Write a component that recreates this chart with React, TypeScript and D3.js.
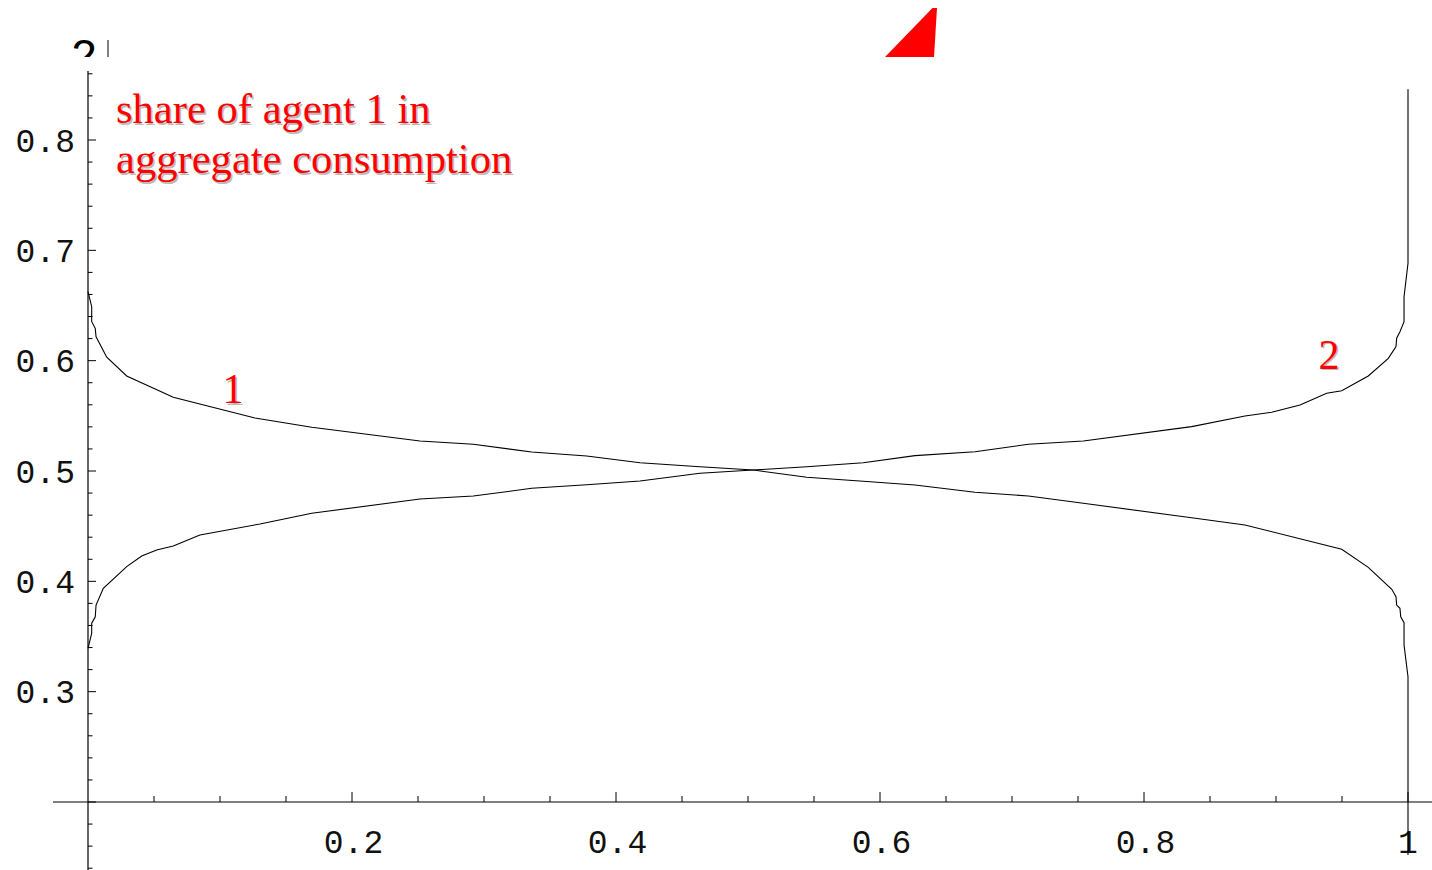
import React from 'react';
import * as d3 from 'd3';

// share of agent 1 in aggregate consumption
const agent1X = [0, 0.0028, 0.0028, 0.0055, 0.0061, 0.0142, 0.0293, 0.0646, 0.1265, 0.1695, 0.2515, 0.2919, 0.3361, 0.3778, 0.4182, 0.4636, 0.504, 0.5445, 0.5873, 0.6265, 0.672, 0.7124, 0.754, 0.8361, 0.8765, 0.9498, 0.9699, 0.9877, 0.9909, 0.9914, 0.9939, 0.9945, 0.997, 0.997, 1, 1];
const agent1Y = [0.6625, 0.6489, 0.6353, 0.6293, 0.6217, 0.6031, 0.5861, 0.5668, 0.548, 0.5396, 0.5272, 0.5242, 0.5172, 0.5136, 0.5075, 0.5039, 0.5009, 0.4943, 0.4907, 0.4873, 0.4807, 0.4773, 0.4707, 0.4577, 0.4511, 0.429, 0.4127, 0.3928, 0.3861, 0.3785, 0.3756, 0.3679, 0.3625, 0.3423, 0.3136, 0.152];

// share of agent 2
const agent2X = [0, 0.0028, 0.0028, 0.0055, 0.0061, 0.0116, 0.0293, 0.0407, 0.052, 0.0646, 0.0848, 0.1303, 0.1695, 0.2515, 0.2919, 0.3361, 0.3778, 0.4182, 0.4636, 0.504, 0.5445, 0.5873, 0.6265, 0.672, 0.7124, 0.754, 0.8361, 0.8765, 0.8967, 0.9182, 0.9384, 0.9498, 0.9699, 0.9851, 0.9909, 0.9914, 0.9939, 0.997, 0.997, 1, 1];
const agent2Y = [0.3393, 0.3529, 0.362, 0.3679, 0.3785, 0.3937, 0.4133, 0.423, 0.4284, 0.432, 0.442, 0.452, 0.4617, 0.4746, 0.4773, 0.4843, 0.4876, 0.4909, 0.4979, 0.5009, 0.5039, 0.5075, 0.5139, 0.5175, 0.5242, 0.5272, 0.5402, 0.5498, 0.5532, 0.5598, 0.5704, 0.5728, 0.5861, 0.6021, 0.6127, 0.6203, 0.6263, 0.6353, 0.658, 0.6883, 0.846];

const xTickLabels = ['0.2', '0.4', '0.6', '0.8', '1'];
const yTickLabels = ['0.3', '0.4', '0.5', '0.6', '0.7', '0.8'];

const curveLabels = [
  { text: '1', x: 0.1098, y: 0.5616 },
  { text: '2', x: 0.9402, y: 0.5925 },
];
const titleLines = ['share of agent 1 in', 'aggregate consumption'];

const W = 1432;
const H = 870;
const red = '#ff0000';
const mono = '"Liberation Mono", "Courier New", monospace';
const serif = '"Liberation Serif", "Times New Roman", serif';

export default function App() {
  const x = d3.scaleLinear().domain([0, 1]).range([88, 1408]);
  const y = d3.scaleLinear().domain([0.5, 0.8]).range([471, 140]);

  const line = d3
    .line<[number, number]>()
    .x(d => x(d[0]))
    .y(d => y(d[1]));

  const s1 = agent1X.map((v, i) => [v, agent1Y[i]] as [number, number]);
  const s2 = agent2X.map((v, i) => [v, agent2Y[i]] as [number, number]);

  const yAxisTop = 0.8625;
  const yAxisBottom = y.invert(H);
  const xMinor = d3.range(1, 21).map(i => i * 0.05);
  const yMinor = d3.range(7, 44).map(i => i * 0.02);

  const y0 = y(0.2);

  return (
    <svg width={W} height={H} style={{ position: 'absolute', left: 0, top: 0, background: '#fff' }}>
      <defs>
        <clipPath id="topclip">
          <rect x={0} y={0} width={W} height={57} />
        </clipPath>
      </defs>

      {/* remains of the panel above */}
      <g clipPath="url(#topclip)">
        <text x={84} y={71} textAnchor="middle" fontFamily={mono} fontSize={46} fill="#000">2</text>
        <line x1={108} x2={108} y1={40} y2={60} stroke="#000" strokeWidth={1} />
        <polygon points="885,57 932.5,8 937,8 934,57" fill={red} />
      </g>

      {/* y axis */}
      <line x1={x(0)} x2={x(0)} y1={y(yAxisTop)} y2={y(yAxisBottom)} stroke="#000" strokeWidth={1.2} />
      {yMinor.map(v => {
        const major = Math.abs(v * 10 - Math.round(v * 10)) < 1e-6;
        return (
          <line key={'ym' + v} x1={x(0)} x2={x(0) + (major ? 8 : 4.5)} y1={y(v)} y2={y(v)} stroke="#000" strokeWidth={1} />
        );
      })}
      {yTickLabels.map(t => (
        <text key={'yl' + t} x={75} y={y(+t) + 11.5} textAnchor="end" fontFamily={mono} fontSize={33} fill="#111">
          {t}
        </text>
      ))}

      {/* x axis */}
      <line x1={53} x2={W} y1={y0} y2={y0} stroke="#000" strokeWidth={1.2} />
      {xMinor.map(v => {
        const major = Math.abs(v * 5 - Math.round(v * 5)) < 1e-6;
        return (
          <line key={'xm' + v} x1={x(v)} x2={x(v)} y1={y0} y2={y0 - (major ? 10 : 6)} stroke="#000" strokeWidth={1} />
        );
      })}
      {xTickLabels.map(t => (
        <text key={'xl' + t} x={x(+t) + (t === '1' ? 0 : 1.5)} y={853} textAnchor="middle" fontFamily={mono} fontSize={33} fill="#111">
          {t}
        </text>
      ))}

      {/* curves */}
      <path d={line(s1) || ''} fill="none" stroke="#000" strokeWidth={1.1} />
      <path d={line(s2) || ''} fill="none" stroke="#000" strokeWidth={1.1} />

      {/* red labels with soft shadow */}
      {curveLabels.map(l => (
        <g key={'cl' + l.text} fontFamily={serif} fontSize={42} textAnchor="middle">
          <text x={x(l.x) + 1.5} y={y(l.y) + 1.5} fill="#bbb">{l.text}</text>
          <text x={x(l.x)} y={y(l.y)} fill={red}>{l.text}</text>
        </g>
      ))}
      {titleLines.map((t, i) => (
        <g key={'tl' + i} fontFamily={serif} fontSize={42.6}>
          <text x={116 + 1.5} y={123 + i * 50 + 1.5} fill="#bbb">{t}</text>
          <text x={116} y={123 + i * 50} fill={red}>{t}</text>
        </g>
      ))}
    </svg>
  );
}
